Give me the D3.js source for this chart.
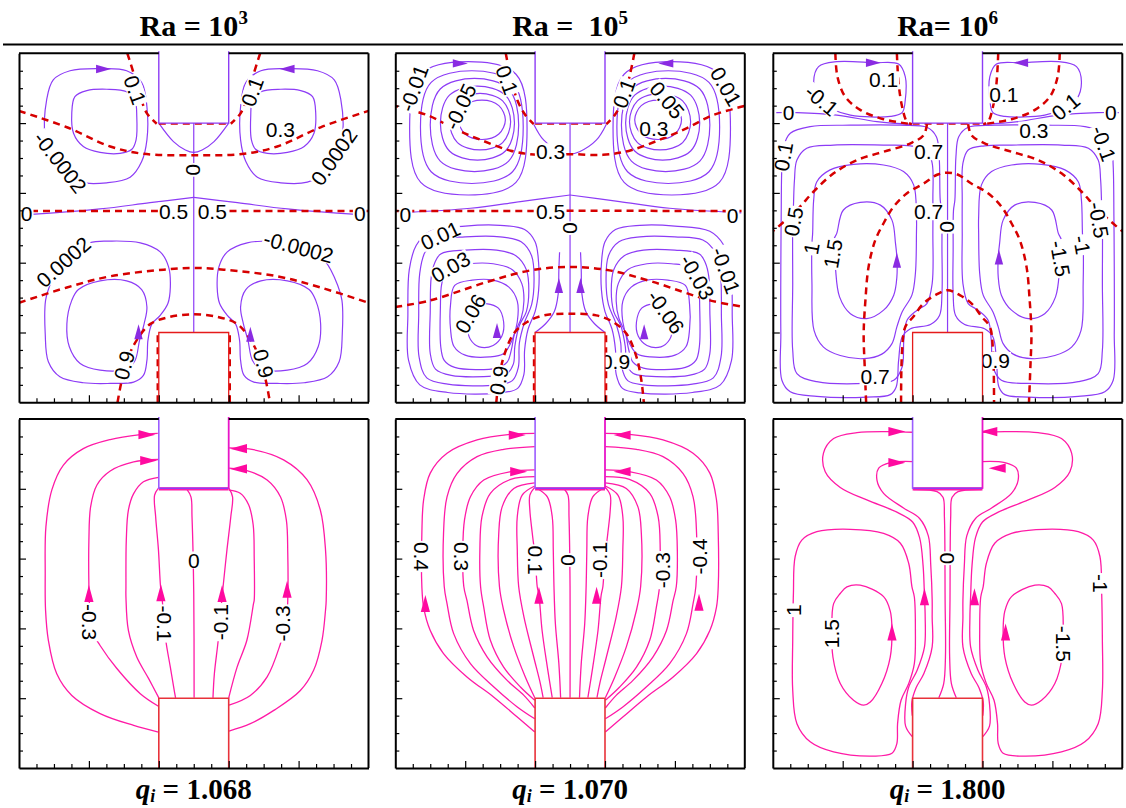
<!DOCTYPE html>
<html>
<head>
<meta charset="utf-8">
<script src="https://cdn.jsdelivr.net/npm/d3@7/dist/d3.min.js"></script>
<style>
html, body { margin: 0; padding: 0; background: #fff; }
svg { display: block; }
</style>
</head>
<body>
<svg id="fig" width="1126" height="808"></svg>
<script>
// ---------------------------------------------------------------
// Column headings and heat-transfer rates
// ---------------------------------------------------------------
const raTitles = ["Ra = 10", "Ra =  10", "Ra= 10"];
const raExponents = ["3", "5", "6"];
const heatRates = ["1.068", "1.070", "1.800"];

// Tick positions on the dimensionless X / Y axes (0..1)
const majorTicks = [0.2, 0.4, 0.6, 0.8];
const minorTicks = [0.05, 0.1, 0.15, 0.25, 0.3, 0.35, 0.45, 0.5, 0.55, 0.65, 0.7, 0.75, 0.85, 0.9, 0.95];

// Contour geometry is given in cavity coordinates (X, Y in 0..1).
// "mirror" items are also drawn reflected about X = 0.5 (antisymmetric ψ).
// "box" items are nested cells given by [X0, X1, Y0, Y1].

// ---------------- Ra = 10^3 : streamlines ----------------
const ra3Psi = [
  { v: -0.0002, closed: true, mirror: true, pts: [[0.175,0.631],[0.251,0.629],[0.318,0.645],[0.351,0.690],[0.366,0.752],[0.366,0.847],[0.351,0.916],[0.308,0.950],[0.232,0.956],[0.146,0.950],[0.098,0.924],[0.079,0.866],[0.075,0.761],[0.105,0.672]] },
  { v: -0.0004, closed: true, mirror: true, pts: [[0.151,0.828],[0.160,0.876],[0.194,0.893],[0.251,0.897],[0.308,0.890],[0.332,0.864],[0.337,0.819],[0.335,0.752],[0.323,0.725],[0.289,0.713],[0.232,0.716],[0.184,0.733],[0.156,0.771]] },
  { v: 0, pts: [[0.4,0.8],[0.442,0.747],[0.476,0.723],[0.5,0.716],[0.524,0.723],[0.558,0.747],[0.6,0.8]] },
  { v: 0, pts: [[0.5,0.8],[0.5,0.2]] },
  { v: 0, mirror: true, pts: [[0.01,0.538],[0.046,0.539],[0.232,0.554],[0.375,0.572],[0.5,0.587]] },
  { v: 0.0002, closed: true, mirror: true, pts: [[0.202,0.457],[0.261,0.462],[0.347,0.457],[0.404,0.431],[0.428,0.388],[0.433,0.330],[0.426,0.283],[0.404,0.249],[0.380,0.224],[0.369,0.178],[0.366,0.120],[0.356,0.077],[0.328,0.058],[0.261,0.054],[0.184,0.056],[0.117,0.073],[0.084,0.116],[0.075,0.197],[0.076,0.292],[0.087,0.332],[0.125,0.405]] },
  { v: 0.0004, closed: true, mirror: true, pts: [[0.151,0.292],[0.170,0.323],[0.232,0.348],[0.308,0.348],[0.351,0.323],[0.366,0.273],[0.358,0.225],[0.345,0.178],[0.332,0.120],[0.308,0.096],[0.232,0.092],[0.175,0.111],[0.144,0.159],[0.137,0.225]] }
];
// ---------------- Ra = 10^3 : isotherms ----------------
const ra3Theta = [
  { v: 0.1, mirror: true, pts: [[0.31,1.0],[0.328,0.943],[0.347,0.876],[0.366,0.828],[0.394,0.798]] },
  { v: 0.3, pts: [[0,0.835],[0.137,0.788],[0.261,0.733],[0.356,0.712],[0.5,0.708],[0.644,0.712],[0.739,0.733],[0.863,0.788],[1,0.835]] },
  { v: 0.5, mirror: true, pts: [[0,0.548],[0.40,0.548]] },
  { v: 0.7, pts: [[0,0.285],[0.137,0.329],[0.261,0.361],[0.414,0.380],[0.5,0.385],[0.586,0.380],[0.739,0.361],[0.863,0.329],[1,0.285]] },
  { v: 0.9, pts: [[0.282,0],[0.294,0.063],[0.313,0.130],[0.337,0.178],[0.375,0.224],[0.433,0.245],[0.5,0.252],[0.567,0.245],[0.625,0.224],[0.663,0.178],[0.687,0.130],[0.706,0.063],[0.718,0]] },
  { v: 1, mirror: true, pts: [[0.397,0],[0.397,0.2]] },
  { v: 0, pts: [[0.4,0.799],[0.6,0.799]] }
];
const ra3Labels = [
  ["0.1",0.332,0.895,70],["0.1",0.667,0.890,-70],["-0.0002",0.118,0.688,52],["0.0002",0.901,0.704,-55],
  ["0.3",0.748,0.782,0],["0",0.5,0.666,90],["0",0.022,0.542,0],["0",0.975,0.542,0],
  ["0.5",0.442,0.548,0],["0.5",0.553,0.548,0],["0.0002",0.127,0.402,-42],["-0.0002",0.800,0.445,15],
  ["0.9",0.301,0.106,-75],["0.9",0.700,0.111,75]
];
const ra3Arrows = [[0.242,0.955,0],[0.767,0.955,180],[0.342,0.202,-90],[0.662,0.195,-90]];

// ---------------- Ra = 10^5 : streamlines ----------------
const ra5Psi = [
  { v: -0.01, mirror: true, box: [0.041,0.377,0.594,0.976] },
  { v: -0.02, mirror: true, box: [0.072,0.366,0.627,0.950] },
  { v: -0.03, mirror: true, box: [0.100,0.353,0.661,0.928] },
  { v: -0.04, mirror: true, box: [0.129,0.341,0.694,0.906] },
  { v: -0.05, mirror: true, box: [0.155,0.330,0.723,0.885] },
  { v: -0.06, mirror: true, box: [0.181,0.315,0.753,0.866] },
  { v: 0, pts: [[0.396,0.797],[0.425,0.751],[0.473,0.718],[0.5,0.711],[0.527,0.718],[0.575,0.751],[0.604,0.797]] },
  { v: 0, pts: [[0.5,0.8],[0.5,0.2]] },
  { v: 0, mirror: true, pts: [[0.01,0.543],[0.215,0.556],[0.358,0.575],[0.5,0.594]] },
  { v: 0.01, closed: true, mirror: true, pts: [[0.10,0.49],[0.20,0.505],[0.30,0.507],[0.37,0.495],[0.40,0.46],[0.41,0.40],[0.41,0.32],[0.40,0.26],[0.38,0.21],[0.37,0.15],[0.368,0.08],[0.35,0.04],[0.30,0.027],[0.15,0.028],[0.07,0.05],[0.038,0.12],[0.036,0.25],[0.04,0.38],[0.06,0.45]] },
  { v: 0.02, closed: true, mirror: true, pts: [[0.12,0.465],[0.20,0.474],[0.30,0.474],[0.36,0.46],[0.39,0.42],[0.397,0.35],[0.39,0.28],[0.37,0.23],[0.355,0.17],[0.352,0.10],[0.335,0.062],[0.29,0.05],[0.15,0.052],[0.09,0.07],[0.068,0.13],[0.067,0.25],[0.07,0.37],[0.085,0.43]] },
  { v: 0.03, closed: true, mirror: true, pts: [[0.13,0.425],[0.20,0.436],[0.29,0.436],[0.345,0.42],[0.375,0.38],[0.382,0.32],[0.375,0.26],[0.355,0.22],[0.342,0.16],[0.338,0.11],[0.32,0.083],[0.28,0.075],[0.16,0.077],[0.115,0.095],[0.10,0.14],[0.10,0.26],[0.103,0.36],[0.113,0.40]] },
  { v: 0.04, closed: true, mirror: true, pts: [[0.15,0.385],[0.21,0.397],[0.28,0.397],[0.335,0.38],[0.362,0.34],[0.368,0.29],[0.36,0.24],[0.342,0.20],[0.332,0.15],[0.32,0.115],[0.29,0.098],[0.17,0.10],[0.14,0.12],[0.13,0.16],[0.129,0.27],[0.133,0.34]] },
  { v: 0.05, closed: true, mirror: true, pts: [[0.17,0.335],[0.22,0.350],[0.28,0.350],[0.325,0.33],[0.349,0.29],[0.349,0.23],[0.335,0.18],[0.31,0.14],[0.27,0.13],[0.20,0.135],[0.168,0.16],[0.158,0.21],[0.158,0.28]] },
  { v: 0.06, closed: true, mirror: true, pts: [[0.22,0.28],[0.26,0.283],[0.295,0.27],[0.31,0.23],[0.305,0.19],[0.28,0.163],[0.24,0.159],[0.215,0.18],[0.205,0.22],[0.208,0.26]] },
  { v: 0.001, mirror: true, pts: [[0.40,0.20],[0.43,0.225],[0.455,0.26],[0.466,0.31],[0.468,0.38],[0.47,0.43]] }
];
const ra5Theta = [
  { v: 0.1, mirror: true, pts: [[0.316,1.0],[0.330,0.933],[0.349,0.866],[0.372,0.823],[0.396,0.797]] },
  { v: 0.3, pts: [[0,0.849],[0.091,0.823],[0.167,0.785],[0.244,0.752],[0.330,0.721],[0.406,0.709],[0.5,0.711],[0.594,0.709],[0.670,0.721],[0.756,0.752],[0.833,0.785],[0.909,0.823],[1,0.849]] },
  { v: 0.5, pts: [[0,0.548],[0.396,0.548]] },
  { v: 0.5, pts: [[0.49,0.549],[1,0.548]] },
  { v: 0.7, pts: [[0,0.273],[0.10,0.292],[0.263,0.345],[0.387,0.378],[0.5,0.388],[0.613,0.378],[0.737,0.345],[0.90,0.292],[1,0.273]] },
  { v: 0.9, pts: [[0.289,0],[0.296,0.063],[0.310,0.130],[0.339,0.197],[0.377,0.230],[0.425,0.249],[0.5,0.254],[0.575,0.249],[0.623,0.230],[0.661,0.197],[0.690,0.130],[0.704,0.063],[0.711,0]] },
  { v: 1, mirror: true, pts: [[0.397,0],[0.397,0.2]] },
  { v: 0, pts: [[0.4,0.799],[0.6,0.799]] }
];
const ra5Labels = [
  ["-0.01",0.053,0.900,-70],["-0.05",0.186,0.847,-65],["0.1",0.320,0.924,70],["0.1",0.654,0.885,-70],
  ["0.05",0.778,0.866,50],["0.01",0.946,0.905,60],["0.3",0.740,0.785,0],["0.3",0.444,0.718,0],
  ["0",0.029,0.537,0],["0",0.965,0.534,0],["0.5",0.444,0.546,0],["0",0.501,0.499,90],
  ["0.01",0.129,0.478,-25],["0.03",0.158,0.388,-30],["0.06",0.215,0.254,-60],
  ["-0.01",0.946,0.378,70],["-0.03",0.864,0.359,60],["-0.06",0.774,0.259,55],
  ["0.9",0.296,0.063,-80],["0.9",0.630,0.118,0]
];
const ra5Arrows = [[0.186,0.971,0],[0.774,0.971,180],[0.468,0.335,-90],[0.530,0.335,-90],[0.291,0.206,-90],[0.712,0.202,-90]];

// ---------------- Ra = 10^6 : streamlines ----------------
const ra6Psi = [
  { v: -0.1, closed: true, mirror: true, pts: [[0.117,0.919],[0.131,0.962],[0.183,0.976],[0.288,0.973],[0.360,0.969],[0.379,0.933],[0.379,0.866],[0.370,0.830],[0.336,0.819],[0.222,0.823],[0.174,0.838],[0.13,0.87]] },
  { v: 0, mirror: true, pts: [[0.01,0.830],[0.069,0.830],[0.183,0.823],[0.298,0.804],[0.398,0.796]] },
  { v: 0.1, closed: true, mirror: true, pts: [[0.050,0.771],[0.107,0.790],[0.222,0.794],[0.365,0.794],[0.441,0.788],[0.468,0.761],[0.476,0.704],[0.479,0.580],[0.483,0.550],[0.484,0.436],[0.484,0.311],[0.477,0.249],[0.451,0.223],[0.394,0.211],[0.370,0.187],[0.360,0.120],[0.353,0.044],[0.336,0.022],[0.269,0.015],[0.126,0.017],[0.050,0.030],[0.026,0.063],[0.023,0.197],[0.023,0.388],[0.024,0.532],[0.026,0.675],[0.031,0.733]] },
  { v: 0.5, closed: true, mirror: true, pts: [[0.069,0.694],[0.097,0.728],[0.174,0.737],[0.317,0.737],[0.394,0.735],[0.441,0.723],[0.456,0.685],[0.458,0.580],[0.458,0.483],[0.456,0.340],[0.441,0.283],[0.413,0.264],[0.384,0.235],[0.375,0.178],[0.370,0.101],[0.346,0.063],[0.269,0.054],[0.126,0.059],[0.069,0.082],[0.057,0.149],[0.057,0.340],[0.057,0.521],[0.059,0.561],[0.062,0.637]] },
  { v: 1, closed: true, mirror: true, pts: [[0.126,0.632],[0.164,0.666],[0.231,0.682],[0.317,0.680],[0.374,0.661],[0.403,0.623],[0.411,0.532],[0.411,0.483],[0.408,0.369],[0.398,0.307],[0.370,0.259],[0.355,0.216],[0.341,0.168],[0.312,0.138],[0.260,0.125],[0.193,0.134],[0.145,0.158],[0.118,0.206],[0.112,0.340],[0.112,0.455],[0.114,0.484],[0.117,0.580]] },
  { v: 1.5, closed: true, mirror: true, pts: [[0.183,0.484],[0.202,0.551],[0.250,0.573],[0.308,0.565],[0.341,0.522],[0.351,0.456],[0.355,0.416],[0.355,0.359],[0.346,0.307],[0.317,0.264],[0.269,0.240],[0.222,0.254],[0.191,0.302],[0.179,0.388],[0.174,0.464]] },
  { v: 0, pts: [[0.5,0.8],[0.5,0.2]] }
];
const ra6Theta = [
  { v: 0.1, mirror: true, pts: [[0.179,1.0],[0.185,0.933],[0.207,0.876],[0.250,0.838],[0.317,0.811],[0.398,0.797]] },
  { v: 0.1, mirror: true, pts: [[0.355,1.0],[0.360,0.914],[0.370,0.847],[0.384,0.804],[0.398,0.797]] },
  { v: 0.5, mirror: true, pts: [[0.441,0.797],[0.432,0.766],[0.394,0.742],[0.317,0.718],[0.241,0.694],[0.174,0.656],[0.117,0.604],[0.069,0.551],[0,0.49]] },
  { v: 0.7, pts: [[0.267,0],[0.263,0.101],[0.260,0.197],[0.265,0.292],[0.274,0.388],[0.293,0.464],[0.317,0.513],[0.346,0.561],[0.384,0.599],[0.432,0.627],[0.470,0.652],[0.5,0.658],[0.530,0.652],[0.568,0.627],[0.616,0.599],[0.654,0.561],[0.683,0.513],[0.707,0.464],[0.726,0.388],[0.735,0.292],[0.740,0.197],[0.737,0.101],[0.733,0]] },
  { v: 0.9, pts: [[0.367,0],[0.370,0.149],[0.379,0.216],[0.402,0.245],[0.431,0.283],[0.465,0.307],[0.5,0.321],[0.535,0.307],[0.569,0.283],[0.598,0.245],[0.621,0.216],[0.630,0.149],[0.633,0]] },
  { v: 0, pts: [[0.4,0.799],[0.6,0.799]] }
];
const ra6Labels = [
  ["0.1",0.317,0.924,0],["0.1",0.661,0.881,0],["-0.1",0.140,0.866,40],["0.1",0.838,0.847,-40],
  ["0",0.045,0.830,0],["0",0.967,0.830,0],["0.3",0.747,0.780,0],["0.7",0.446,0.718,0],
  ["0.7",0.446,0.546,0],["0",0.501,0.503,90],["0.7",0.293,0.073,0],["0.9",0.637,0.120,0],
  ["0.1",0.030,0.704,-80],["0.5",0.059,0.518,-80],["1",0.110,0.441,-80],["1.5",0.172,0.426,-80],
  ["-0.1",0.947,0.742,70],["-0.5",0.933,0.522,80],["-1",0.885,0.451,80],["-1.5",0.823,0.412,80]
];
const ra6Arrows = [[0.288,0.973,0],[0.709,0.973,180],[0.355,0.407,-90],[0.647,0.416,-90]];

// ---------------- Heatlines ----------------
const ra3Heat = [
  { v: -0.5, pts: [[0.397,0.959],[0.347,0.955],[0.261,0.941],[0.184,0.915],[0.127,0.868],[0.094,0.797],[0.077,0.691],[0.075,0.557],[0.076,0.452],[0.084,0.366],[0.108,0.270],[0.151,0.208],[0.232,0.156],[0.328,0.122],[0.399,0.103]] },
  { v: -0.3, pts: [[0.399,0.884],[0.328,0.877],[0.261,0.851],[0.223,0.811],[0.205,0.749],[0.2,0.653],[0.2,0.520],[0.2015,0.471],[0.213,0.385],[0.232,0.351],[0.280,0.285],[0.347,0.213],[0.399,0.177]] },
  { v: -0.2, pts: [[0.399,0.833],[0.356,0.820],[0.328,0.786],[0.313,0.739],[0.307,0.653],[0.306,0.520],[0.306,0.49],[0.313,0.394],[0.337,0.318],[0.371,0.256],[0.400,0.201]] },
  { v: -0.1, pts: [[0.399,0.802],[0.388,0.782],[0.391,0.720],[0.399,0.625],[0.405,0.520],[0.409,0.49],[0.420,0.366],[0.433,0.289],[0.444,0.223],[0.448,0.201]] },
  { v: 0, pts: [[0.48,0.799],[0.492,0.777],[0.495,0.720],[0.5,0.5],[0.501,0.201]] },
  { v: -0.1, pts: [[0.601,0.801],[0.611,0.777],[0.606,0.720],[0.595,0.625],[0.584,0.520],[0.581,0.49],[0.570,0.366],[0.559,0.270],[0.555,0.201]] },
  { v: -0.2, pts: [[0.601,0.796],[0.633,0.787],[0.657,0.754],[0.670,0.697],[0.673,0.601],[0.673,0.481],[0.671,0.471],[0.652,0.366],[0.624,0.289],[0.600,0.201]] },
  { v: -0.3, pts: [[0.601,0.859],[0.652,0.852],[0.710,0.825],[0.748,0.777],[0.765,0.710],[0.769,0.615],[0.769,0.481],[0.765,0.42],[0.748,0.356],[0.710,0.261],[0.662,0.208],[0.601,0.180]] },
  { v: -0.5, pts: [[0.601,0.917],[0.671,0.912],[0.757,0.883],[0.824,0.826],[0.862,0.740],[0.877,0.625],[0.879,0.481],[0.877,0.452],[0.867,0.366],[0.843,0.280],[0.805,0.222],[0.729,0.165],[0.662,0.127],[0.601,0.106]] }
];
const ra3HeatLabels = [["0",0.5,0.596,0],["-0.3",0.203,0.418,90],["-0.1",0.416,0.414,90],["-0.1",0.577,0.418,-90],["-0.3",0.753,0.414,-90]];
const ra3HeatArrows = [[0.366,0.955,0],[0.371,0.881,0],[0.2,0.500,-90],[0.406,0.502,-90],[0.628,0.915,180],[0.628,0.857,180],[0.581,0.500,-90],[0.767,0.512,-90]];

const ra5Heat = [
  { v: 0.4, mirror: true, pts: [[0.399,0.959],[0.330,0.956],[0.234,0.940],[0.148,0.902],[0.100,0.845],[0.081,0.768],[0.076,0.672],[0.076,0.520],[0.081,0.461],[0.100,0.394],[0.138,0.328],[0.205,0.261],[0.282,0.203],[0.349,0.146],[0.399,0.103]] },
  { v: 0.35, mirror: true, pts: [[0.399,0.921],[0.310,0.913],[0.234,0.892],[0.177,0.844],[0.148,0.777],[0.138,0.672],[0.140,0.520],[0.148,0.471],[0.167,0.385],[0.215,0.299],[0.282,0.232],[0.349,0.175],[0.399,0.141]] },
  { v: 0.3, mirror: true, pts: [[0.399,0.854],[0.330,0.849],[0.253,0.825],[0.215,0.777],[0.198,0.711],[0.193,0.620],[0.196,0.520],[0.205,0.480],[0.224,0.394],[0.263,0.318],[0.320,0.251],[0.368,0.208],[0.399,0.172]] },
  { v: 0.25, mirror: true, pts: [[0.399,0.835],[0.330,0.827],[0.272,0.787],[0.248,0.720],[0.242,0.625],[0.244,0.520],[0.253,0.461],[0.272,0.366],[0.310,0.289],[0.358,0.232],[0.399,0.194]] },
  { v: 0.2, mirror: true, pts: [[0.399,0.817],[0.339,0.801],[0.306,0.749],[0.296,0.672],[0.298,0.520],[0.310,0.452],[0.339,0.347],[0.372,0.261],[0.399,0.2015]] },
  { v: 0.15, mirror: true, pts: [[0.399,0.808],[0.363,0.782],[0.349,0.720],[0.349,0.625],[0.353,0.520],[0.368,0.433],[0.396,0.318],[0.415,0.242],[0.423,0.2015]] },
  { v: 0.1, mirror: true, pts: [[0.399,0.804],[0.385,0.782],[0.385,0.739],[0.392,0.672],[0.401,0.596],[0.406,0.520],[0.411,0.495],[0.420,0.394],[0.435,0.289],[0.449,0.2015]] },
  { v: 0.05, mirror: true, pts: [[0.406,0.801],[0.435,0.777],[0.449,0.720],[0.452,0.625],[0.454,0.520],[0.458,0.414],[0.468,0.299],[0.473,0.2015]] },
  { v: 0, pts: [[0.482,0.801],[0.494,0.782],[0.497,0.720],[0.5,0.52],[0.5,0.2015]] }
];
const ra5HeatLabels = [["0.4",0.076,0.606,90],["0.3",0.191,0.606,90],["0.1",0.401,0.596,90],["0",0.497,0.596,90],["-0.1",0.583,0.596,-90],["-0.3",0.764,0.567,-90],["-0.4",0.869,0.606,-90]];
const ra5HeatArrows = [[0.349,0.954,0],[0.353,0.849,0],[0.086,0.471,-90],[0.411,0.495,-90],[0.649,0.954,180],[0.649,0.849,180],[0.869,0.475,-90],[0.576,0.495,-90]];

const ra6Heat = [
  { v: 0.5, mirror: true, pts: [[0.400,0.962],[0.336,0.964],[0.241,0.961],[0.174,0.944],[0.145,0.902],[0.150,0.849],[0.193,0.804],[0.269,0.768],[0.355,0.733],[0.400,0.705],[0.420,0.660],[0.430,0.580],[0.434,0.491],[0.436,0.433],[0.434,0.347],[0.413,0.280],[0.389,0.232],[0.380,0.184],[0.380,0.12],[0.399,0.09]] },
  { v: 0.3, mirror: true, pts: [[0.400,0.878],[0.336,0.875],[0.303,0.859],[0.298,0.825],[0.317,0.787],[0.374,0.745],[0.420,0.715],[0.445,0.665],[0.452,0.580],[0.456,0.481],[0.456,0.433],[0.456,0.347],[0.432,0.270],[0.410,0.230],[0.398,0.19],[0.399,0.15]] },
  { v: 0, mirror: true, pts: [[0.403,0.798],[0.470,0.792],[0.487,0.776],[0.491,0.720],[0.493,0.481],[0.494,0.318],[0.489,0.242],[0.475,0.2015]] },
  { v: 1, closed: true, mirror: true, pts: [[0.222,0.684],[0.317,0.672],[0.365,0.644],[0.389,0.586],[0.398,0.520],[0.405,0.490],[0.408,0.394],[0.405,0.299],[0.389,0.242],[0.367,0.194],[0.357,0.127],[0.355,0.070],[0.341,0.042],[0.288,0.034],[0.174,0.046],[0.107,0.075],[0.069,0.127],[0.057,0.223],[0.057,0.366],[0.059,0.500],[0.064,0.606],[0.083,0.653],[0.126,0.677]] },
  { v: 1.5, closed: true, mirror: true, pts: [[0.250,0.524],[0.317,0.491],[0.336,0.450],[0.341,0.394],[0.336,0.318],[0.312,0.242],[0.279,0.189],[0.260,0.180],[0.231,0.194],[0.193,0.242],[0.172,0.318],[0.169,0.394],[0.174,0.471],[0.193,0.500],[0.212,0.519]] }
];
const ra6HeatLabels = [["0",0.5,0.601,90],["1",0.059,0.452,-90],["1.5",0.169,0.385,-90],["-1",0.938,0.529,90],["-1.5",0.833,0.356,90]];
const ra6HeatArrows = [[0.355,0.964,0],[0.355,0.875,0],[0.434,0.491,-90],[0.341,0.390,-90],[0.618,0.964,180],[0.642,0.859,180],[0.577,0.491,-90],[0.666,0.390,-90]];

// ---------------------------------------------------------------
// Layout
// ---------------------------------------------------------------
const svg = d3.select("#fig");
const W = 349.5, H = 349;
const colX = [19, 395.3, 772.8];
const rowY = [53.3, 419];

const PURPLE = "#8d3cf6", PURPLE_FILL = "#8a2be2";
const RED = "#d60000";
const MAGENTA = "#ff1aa6", MAGENTA_FILL = "#ff0aa0";
const LABEL_FONT = "'Liberation Sans', Arial, Helvetica, sans-serif";
const TITLE_FONT = "'Liberation Serif', 'Times New Roman', Times, serif";

// Nested cells: small cells are rounder, large ones squarer.
function boxLoop(b) {
  const [x0, x1, y0, y1] = b;
  const cx = (x0 + x1) / 2, cy = (y0 + y1) / 2, hw = (x1 - x0) / 2, hh = (y1 - y0) / 2;
  const k = Math.min(0.82, 0.66 + 0.45 * (x1 - x0));
  return [[cx, y1], [cx + k * hw, cy + k * hh], [x1, cy], [cx + k * hw, cy - k * hh],
          [cx, y0], [cx - k * hw, cy - k * hh], [x0, cy], [cx - k * hw, cy + k * hh]];
}

function scalesFor(col, row) {
  const x0 = colX[col], y0 = rowY[row];
  return {
    x0, y0,
    sx: d3.scaleLinear().domain([0, 1]).range([x0, x0 + W]),
    sxm: d3.scaleLinear().domain([0, 1]).range([x0 + W, x0]),
    sy: d3.scaleLinear().domain([0, 1]).range([y0 + H, y0])
  };
}

function drawLines(g, items, sc, style) {
  items.forEach(item => {
    const pts = item.box ? boxLoop(item.box) : item.pts;
    const closed = item.closed || !!item.box;
    const xs = item.mirror ? [sc.sx, sc.sxm] : [sc.sx];
    xs.forEach(xScale => {
      const gen = d3.line()
        .x(d => xScale(d[0]))
        .y(d => sc.sy(d[1]))
        .curve(closed ? d3.curveCatmullRomClosed.alpha(0.5) : d3.curveCatmullRom.alpha(0.5));
      g.append("path")
        .attr("d", gen(pts))
        .attr("fill", "none")
        .attr("stroke", style.color)
        .attr("stroke-width", style.width)
        .attr("stroke-dasharray", style.dash || null)
        .attr("stroke-linejoin", "round");
    });
  });
}

function drawLabels(g, labels, sc) {
  labels.forEach(([t, x, y, a]) => {
    const lg = g.append("g").attr("transform", `translate(${sc.sx(x)},${sc.sy(y)}) rotate(${a})`);
    const rect = lg.append("rect").attr("fill", "#fff");
    const txt = lg.append("text")
      .attr("text-anchor", "middle")
      .attr("dy", "0.36em")
      .attr("font-family", LABEL_FONT)
      .attr("font-size", 21)
      .attr("fill", "#000")
      .text(t);
    const w = txt.node().getComputedTextLength();
    rect.attr("x", -w / 2 - 1).attr("y", -8.5).attr("width", w + 2).attr("height", 17);
  });
}

function drawArrows(g, arrows, sc, color, len, half) {
  arrows.forEach(([x, y, a]) => {
    g.append("path")
      .attr("d", `M${len / 2},0L${-len / 2},${-half}L${-len / 2},${half}Z`)
      .attr("transform", `translate(${sc.sx(x)},${sc.sy(y)}) rotate(${a})`)
      .attr("fill", color);
  });
}

function drawBlocks(g, sc, row) {
  const { sx, sy } = sc;
  const bx = sx(0.4), bw = sx(0.6) - sx(0.4);
  // hanging block at the top wall
  g.append("rect").attr("x", bx).attr("y", sy(1) - 2).attr("width", bw).attr("height", sy(0.8) - sy(1) + 2).attr("fill", "#fff");
  // block on the bottom wall
  g.append("rect").attr("x", bx).attr("y", sy(0.2)).attr("width", bw).attr("height", sy(0) - sy(0.2)).attr("fill", "#fff");
  if (row === 0) {
    g.append("path")
      .attr("d", `M${bx},${sy(1) - 2}V${sy(0.8)}H${sx(0.6)}V${sy(1) - 2}`)
      .attr("fill", "none").attr("stroke", PURPLE).attr("stroke-width", 1.4);
    g.append("path")
      .attr("d", `M${bx},${sy(0)}V${sy(0.2)}H${sx(0.6)}V${sy(0)}`)
      .attr("fill", "none").attr("stroke", "#e51b1b").attr("stroke-width", 1.3);
  } else {
    g.append("path").attr("d", `M${bx},${sy(0.8)}H${sx(0.6)}`).attr("stroke", MAGENTA).attr("stroke-width", 3.2);
    g.append("path").attr("d", `M${bx},${sy(0.8) - 0.6}H${sx(0.6)}`).attr("stroke", PURPLE).attr("stroke-width", 1.4);
    g.append("path").attr("d", `M${bx},${sy(1) - 2}V${sy(0.8)}`).attr("stroke", "#9a5cff").attr("stroke-width", 1.6);
    g.append("path").attr("d", `M${sx(0.6)},${sy(1) - 2}V${sy(0.8)}`).attr("stroke", "#e814c8").attr("stroke-width", 1.8);
    g.append("path")
      .attr("d", `M${bx},${sy(0)}V${sy(0.2)}H${sx(0.6)}V${sy(0)}`)
      .attr("fill", "none").attr("stroke", "#e8323a").attr("stroke-width", 1.6);
  }
}

function drawFrame(g, sc) {
  const { sx, sy, x0, y0 } = sc;
  const axL = (ticks, size) => d3.axisLeft(sy).tickValues(ticks).tickSize(-size).tickSizeOuter(0).tickFormat("");
  const axB = (ticks, size) => d3.axisBottom(sx).tickValues(ticks).tickSize(-size).tickSizeOuter(0).tickFormat("");
  const styleAxis = a => {
    a.selectAll(".tick line").attr("stroke", "#000").attr("stroke-width", 1.2);
    a.selectAll(".domain").attr("stroke", "#000").attr("stroke-width", 2);
  };
  const l1 = g.append("g").attr("transform", `translate(${x0},0)`).call(axL(minorTicks, 4)); styleAxis(l1);
  const l2 = g.append("g").attr("transform", `translate(${x0},0)`).call(axL(majorTicks, 7)); styleAxis(l2); l2.select(".domain").remove();
  const b1 = g.append("g").attr("transform", `translate(0,${y0 + H})`).call(axB(minorTicks, 4)); styleAxis(b1);
  const b2 = g.append("g").attr("transform", `translate(0,${y0 + H})`).call(axB(majorTicks, 7)); styleAxis(b2); b2.select(".domain").remove();
  // right wall and the two pieces of the top wall beside the hanging block
  g.append("path").attr("d", `M${sx(1)},${sy(1)}V${sy(0)}`).attr("stroke", "#000").attr("stroke-width", 2);
  g.append("path").attr("d", `M${sx(0)},${sy(1)}H${sx(0.4)}M${sx(0.6)},${sy(1)}H${sx(1)}`).attr("stroke", "#000").attr("stroke-width", 2);
}

function clipFor(id, sc) {
  svg.append("defs").append("clipPath").attr("id", id)
    .append("rect").attr("x", sc.x0).attr("y", sc.y0).attr("width", W).attr("height", H);
  return `url(#${id})`;
}

// ---------------------------------------------------------------
// Top row: streamlines + isotherms
// ---------------------------------------------------------------
const topPanels = [
  { psi: ra3Psi, theta: ra3Theta, labels: ra3Labels, arrows: ra3Arrows },
  { psi: ra5Psi, theta: ra5Theta, labels: ra5Labels, arrows: ra5Arrows },
  { psi: ra6Psi, theta: ra6Theta, labels: ra6Labels, arrows: ra6Arrows }
];
topPanels.forEach((p, i) => {
  const sc = scalesFor(i, 0);
  const g = svg.append("g");
  const inner = g.append("g").attr("clip-path", clipFor("clipTop" + i, sc));
  drawLines(inner, p.psi, sc, { color: PURPLE, width: 1.2 });
  drawLines(inner, p.theta, sc, { color: RED, width: 2.5, dash: "7 5" });
  drawLabels(g, p.labels, sc);
  drawArrows(g, p.arrows, sc, PURPLE_FILL, 15, 4.2);
  drawBlocks(g, sc, 0);
  drawFrame(g, sc);
});

// ---------------------------------------------------------------
// Bottom row: heatlines
// ---------------------------------------------------------------
const bottomPanels = [
  { heat: ra3Heat, labels: ra3HeatLabels, arrows: ra3HeatArrows },
  { heat: ra5Heat, labels: ra5HeatLabels, arrows: ra5HeatArrows },
  { heat: ra6Heat, labels: ra6HeatLabels, arrows: ra6HeatArrows }
];
bottomPanels.forEach((p, i) => {
  const sc = scalesFor(i, 1);
  const g = svg.append("g");
  const inner = g.append("g").attr("clip-path", clipFor("clipBot" + i, sc));
  drawLines(inner, p.heat, sc, { color: MAGENTA, width: 1.3 });
  drawLabels(g, p.labels, sc);
  drawArrows(g, p.arrows, sc, MAGENTA_FILL, 17, 4.6);
  drawBlocks(g, sc, 1);
  drawFrame(g, sc);
});

// ---------------------------------------------------------------
// Column headings, rule and heat-transfer captions
// ---------------------------------------------------------------
svg.append("path").attr("d", "M3,44.5H1123").attr("stroke", "#000").attr("stroke-width", 2);

raTitles.forEach((t, i) => {
  const cx = colX[i] + W / 2;
  const txt = svg.append("text")
    .attr("x", cx).attr("y", 36)
    .attr("text-anchor", "middle")
    .attr("font-family", TITLE_FONT)
    .attr("font-weight", "bold")
    .attr("font-size", 30)
    .style("white-space", "pre");
  txt.append("tspan").text(t);
  txt.append("tspan").attr("font-size", 19).attr("dy", -12).text(raExponents[i]);
});

heatRates.forEach((q, i) => {
  const cx = colX[i] + W / 2;
  const txt = svg.append("text")
    .attr("x", cx).attr("y", 799)
    .attr("text-anchor", "middle")
    .attr("font-family", TITLE_FONT)
    .attr("font-weight", "bold")
    .attr("font-size", 29)
    .style("white-space", "pre");
  txt.append("tspan").attr("font-style", "italic").text("q");
  txt.append("tspan").attr("font-style", "italic").attr("font-size", 18).attr("dy", 3).text("i");
  txt.append("tspan").attr("dy", -3).text(" = " + q);
});
</script>
</body>
</html>
